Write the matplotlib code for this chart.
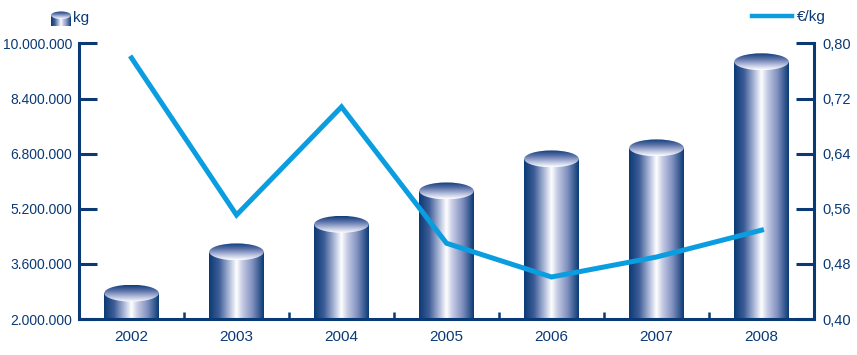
import matplotlib
matplotlib.use('Agg')
import matplotlib.pyplot as plt
import numpy as np
from matplotlib.colors import LinearSegmentedColormap
from matplotlib.patches import Ellipse
from matplotlib.lines import Line2D
from matplotlib.ticker import FuncFormatter

plt.rcParams['font.family'] = ['Liberation Sans', 'DejaVu Sans']

# data
years = ['2002', '2003', '2004', '2005', '2006', '2007', '2008']
kg = [2750000, 3950000, 4750000, 5720000, 6650000, 6970000, 9470000]
eur_per_kg = [0.779, 0.551, 0.708, 0.510, 0.461, 0.490, 0.529]

navy = '#0a3a75'
line_blue = '#0a9ddf'

side_cmap = LinearSegmentedColormap.from_list('side', [
    (0.0, '#0a3a75'), (0.18, '#3c5c96'), (0.38, '#b4bfdc'), (0.5, '#ffffff'),
    (0.6, '#c9cfe6'), (0.8, '#7d8dbd'), (1.0, '#0a3a75')])
top_cmap = LinearSegmentedColormap.from_list('top', [
    (0.0, '#ffffff'), (0.3, '#b8c1de'), (0.65, '#5f75ab'), (1.0, '#0e3c78')])

side_grad = side_cmap(np.linspace(0, 1, 256))[np.newaxis, :, :]
top_grad = top_cmap(np.linspace(0, 1, 128))[:, np.newaxis, :]


def cylinder(ax, x, top, bottom, w, eh):
    bar = ax.bar(x, top - bottom, bottom=bottom, width=w, color='none',
                 edgecolor='none', zorder=2)[0]
    im = ax.imshow(side_grad, extent=(x - w / 2, x + w / 2, bottom, top),
                   aspect='auto', zorder=2, interpolation='bilinear')
    im.set_clip_path(bar)
    ell = Ellipse((x, top), w, eh, facecolor='none', edgecolor='none', zorder=3)
    ax.add_patch(ell)
    im2 = ax.imshow(top_grad, extent=(x - w / 2, x + w / 2, top - eh / 2, top + eh / 2),
                    aspect='auto', origin='lower', zorder=3, interpolation='bilinear')
    im2.set_clip_path(ell)


fig = plt.figure(figsize=(8.57, 3.55), dpi=100)
ax = fig.add_axes([0.0922, 0.1014, 0.8576, 0.7761])

ymin, ymax = 2000000, 10000000
bar_w = 0.52
ell_h = 0.49e6
x = np.arange(len(years))
for xi, v in zip(x, kg):
    cylinder(ax, xi, v, ymin, bar_w, ell_h)

ax.set_xlim(-0.5, len(years) - 0.5)
ax.set_ylim(ymin, ymax)
ax.set_yticks(np.arange(ymin, ymax + 1, 1600000))
ax.yaxis.set_major_formatter(FuncFormatter(lambda v, p: f'{int(v):,}'.replace(',', '.')))
ax.set_xticks(x)
ax.set_xticklabels(years)
ax.set_xticks(x[:-1] + 0.5, minor=True)

for s in ['top', 'right']:
    ax.spines[s].set_visible(False)
for s in ['left', 'bottom']:
    ax.spines[s].set_color(navy)
    ax.spines[s].set_linewidth(2.2)

ax.tick_params(axis='y', direction='in', length=13, width=2.2, color=navy,
               labelcolor=navy, labelsize=10, pad=5)
ax.tick_params(axis='x', which='major', length=0, labelcolor=navy, labelsize=11, pad=8)
ax.tick_params(axis='x', which='minor', direction='in', length=5, width=1.8, color=navy)

ax2 = ax.twinx()
ax2.plot(x, eur_per_kg, color=line_blue, lw=3.6, solid_joinstyle='miter', zorder=5)
ax2.set_ylim(0.40, 0.80)
ax2.set_yticks(np.arange(0.40, 0.801, 0.08))
ax2.yaxis.set_major_formatter(FuncFormatter(lambda v, p: f'{v:.2f}'.replace('.', ',')))
for s in ['top', 'left', 'bottom']:
    ax2.spines[s].set_visible(False)
ax2.spines['right'].set_color(navy)
ax2.spines['right'].set_linewidth(2.2)
ax2.tick_params(axis='y', direction='in', length=13, width=2.2, color=navy,
                labelcolor=navy, labelsize=10.5, pad=6)

# legend: cylinder icon + kg
icon = fig.add_axes([51 / 857, 1 - 26 / 355, 20 / 857, 15 / 355])
cylinder(icon, 0, 0.72, 0, 1.0, 0.5)
icon.set_xlim(-0.5, 0.5)
icon.set_ylim(0, 1)
icon.axis('off')
fig.text(73 / 857, 1 - 18 / 355, 'kg', color=navy, fontsize=11, va='center', ha='left')

# legend: line + €/kg
fig.add_artist(Line2D([752 / 857, 792 / 857], [1 - 16 / 355, 1 - 16 / 355],
                      color=line_blue, lw=3.2, transform=fig.transFigure))
fig.text(797 / 857, 1 - 17 / 355, '€/kg', color=navy, fontsize=11, va='center', ha='left')

fig.savefig('out.png', dpi=100)
